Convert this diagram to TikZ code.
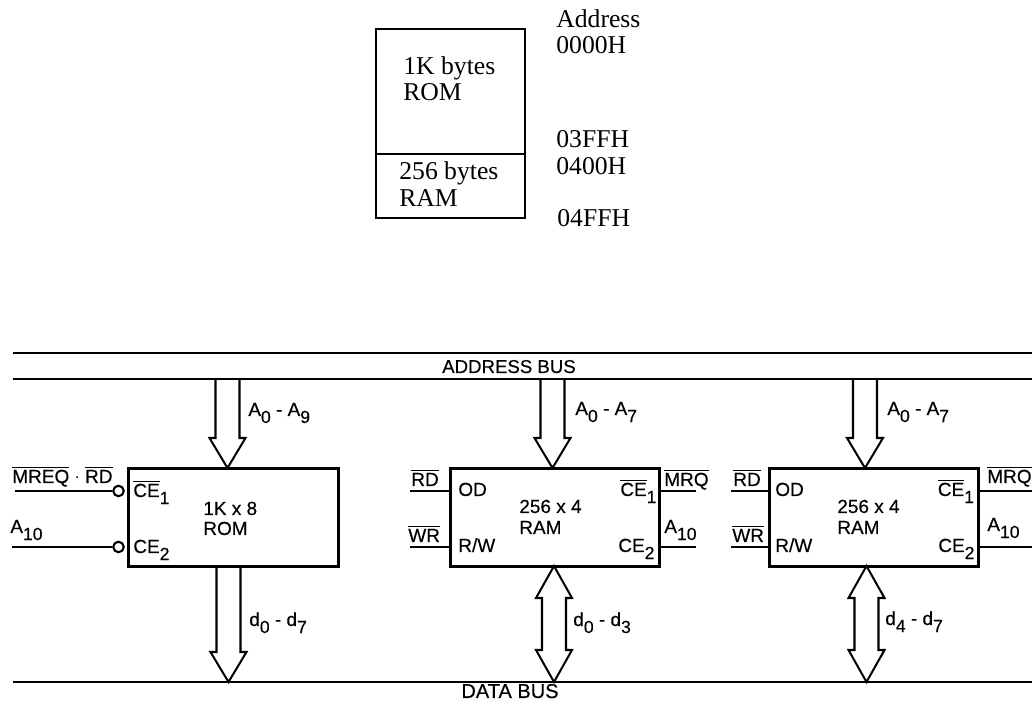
\documentclass[tikz,border=0pt]{standalone}
\usepackage{fontspec}
\setmainfont[FakeBold=0.35]{Liberation Sans}
\newfontfamily\mapfont{Liberation Serif}

\newcommand{\lowsub}[1]{\raisebox{-4pt}{\fontsize{10}{10}\selectfont #1}}
\newcommand{\barred}[1]{$\overline{\mbox{#1}}$}

% Hollow bus arrows between two named points
\newcommand{\busdown}[2]{
  \draw[busarrow] ([shift={(-12,0)}]#1) -- ([shift={(-12,-30)}]#2) -- ([shift={(-18,-30)}]#2)
    -- (#2) -- ([shift={(18,-30)}]#2) -- ([shift={(12,-30)}]#2) -- ([shift={(12,0)}]#1);
}
\newcommand{\busboth}[2]{
  \draw[busarrow] ([shift={(-12,32)}]#1) -- ([shift={(-18,32)}]#1) -- (#1)
    -- ([shift={(18,32)}]#1) -- ([shift={(12,32)}]#1) -- ([shift={(12,-32)}]#2)
    -- ([shift={(18,-32)}]#2) -- (#2) -- ([shift={(-18,-32)}]#2)
    -- ([shift={(-12,-32)}]#2) -- cycle;
}

\tikzset{
  busline/.style={line width=1pt},
  busarrow/.style={line width=1.15pt, line join=miter},
  pinline/.style={line width=1pt},
  chip/.style={draw, line width=1.7pt, minimum width=4.2cm, minimum height=1.96cm, inner sep=0pt},
  bubble/.style={draw, circle, line width=1.2pt, minimum size=0.21cm, inner sep=0pt},
  lbl/.style={anchor=base west, inner sep=0pt, font=\fontsize{10.8}{10.8}\selectfont},
  buslbl/.style={anchor=base, inner sep=0pt, font=\fontsize{10.6}{10.6}\selectfont},
  maplbl/.style={anchor=base west, inner sep=0pt, font=\mapfont\fontsize{14.6}{14.6}\selectfont},
  mapbox/.style={draw, line width=1.05pt, minimum width=2.98cm, inner sep=0pt}
}

\begin{document}
\begin{tikzpicture}[x=0.02cm,y=-0.02cm]

\useasboundingbox (0,0) rectangle (1032,705);

% Memory map
\node[mapbox, minimum height=2.5cm] (maprom) at (450.5,91.5) {};
\node[mapbox, minimum height=1.28cm] (mapram) at (450.5,186) {};
\node[maplbl] (maprom1) at (403,75) {1K bytes};
\node[maplbl] (maprom2) at (403,101) {ROM};
\node[maplbl] (mapram1) at (399,180) {256 bytes};
\node[maplbl] (mapram2) at (399,207) {RAM};
\node[maplbl] (addrhead) at (556,28) {Address};
\node[maplbl] (addr0) at (556,54) {0000H};
\node[maplbl] (addr1) at (556,148) {03FFH};
\node[maplbl] (addr2) at (556,175) {0400H};
\node[maplbl] (addr3) at (557,227) {04FFH};

% Buses
\coordinate (busa1) at (13,353);
\coordinate (busa2) at (1032,353);
\coordinate (busb1) at (13,379);
\coordinate (busb2) at (1032,379);
\coordinate (busc1) at (13,682);
\coordinate (busc2) at (1032,682);
\draw[busline] (busa1) -- (busa2);
\draw[busline] (busb1) -- (busb2);
\draw[busline] (busc1) -- (busc2);
\node[buslbl] (addrbus) at (509,373) {ADDRESS BUS};
\node[buslbl, font=\fontsize{11.4}{11.4}\selectfont] (databus) at (510,698) {DATA BUS};

% Chips
\node[chip] (rom) at (233.5,517.5) {};
\node[chip] (rama) at (555,517.5) {};
\node[chip] (ramb) at (874,517.5) {};

% ROM
\node[lbl] (romname1) at (203,515) {1K x 8};
\node[lbl] (romname2) at (203,535) {ROM};
\node[lbl] (romce1) at (133,497) {\barred{CE}\lowsub{1}};
\node[lbl] (romce2) at (133,553) {CE\lowsub{2}};
\node[bubble] (romb1) at (118.5,491) {};
\node[bubble] (romb2) at (118.5,547) {};
\coordinate (romin1) at (15,491);
\coordinate (romin2) at (12,547);
\draw[pinline] (romin1) -- (romb1);
\draw[pinline] (romin2) -- (romb2);
\node[lbl] (mreq) at (12,483) {\barred{MREQ} $\cdot$ \barred{RD}};
\node[lbl] (roma10) at (10,533) {A\lowsub{10}};
\coordinate (romat) at (227.5,379);
\coordinate (romab) at (227.5,468);
\coordinate (romdt) at (228.5,566);
\coordinate (romdb) at (228.5,682);
\busdown{romat}{romab}
\busdown{romdt}{romdb}
\node[lbl] (romaddr) at (248,416) {A\lowsub{0} - A\lowsub{9}};
\node[lbl] (romdata) at (249,626) {d\lowsub{0} - d\lowsub{7}};

% First RAM
\node[lbl] (ramaname1) at (519,513) {256 x 4};
\node[lbl] (ramaname2) at (519,534) {RAM};
\node[lbl] (ramaod) at (458,496) {OD};
\node[lbl] (ramarw) at (458,552) {R/W};
\node[lbl] (ramace1) at (620,496) {\barred{CE}\lowsub{1}};
\node[lbl] (ramace2) at (618,552) {CE\lowsub{2}};
\coordinate (ramal1) at (410,491);
\coordinate (ramal2) at (410,547);
\coordinate (ramar1) at (696,491);
\coordinate (ramar2) at (696,547);
\draw[pinline] (ramal1) -- (ramal1 -| rama.west);
\draw[pinline] (ramal2) -- (ramal2 -| rama.west);
\draw[pinline] (ramar1) -- (ramar1 -| rama.east);
\draw[pinline] (ramar2) -- (ramar2 -| rama.east);
\node[lbl] (ramard) at (411,486) {\barred{RD}};
\node[lbl] (ramawr) at (408,542) {\barred{WR}};
\node[lbl] (ramamrq) at (664,486) {\barred{MRQ}};
\node[lbl] (ramaa10) at (664,533) {A\lowsub{10}};
\coordinate (ramaat) at (552.5,379);
\coordinate (ramaab) at (552.5,468);
\coordinate (ramadt) at (554,566);
\coordinate (ramadb) at (554,682);
\busdown{ramaat}{ramaab}
\busboth{ramadt}{ramadb}
\node[lbl] (ramaaddr) at (575,415) {A\lowsub{0} - A\lowsub{7}};
\node[lbl] (ramadata) at (573,626) {d\lowsub{0} - d\lowsub{3}};

% Second RAM
\node[lbl] (rambname1) at (837,513) {256 x 4};
\node[lbl] (rambname2) at (837,534) {RAM};
\node[lbl] (rambod) at (775,496) {OD};
\node[lbl] (rambrw) at (775,552) {R/W};
\node[lbl] (rambce1) at (937.5,496) {\barred{CE}\lowsub{1}};
\node[lbl] (rambce2) at (938,552) {CE\lowsub{2}};
\coordinate (rambl1) at (731,491);
\coordinate (rambl2) at (731,547);
\coordinate (rambr1) at (1032,491);
\coordinate (rambr2) at (1032,547);
\draw[pinline] (rambl1) -- (rambl1 -| ramb.west);
\draw[pinline] (rambl2) -- (rambl2 -| ramb.west);
\draw[pinline] (rambr1) -- (rambr1 -| ramb.east);
\draw[pinline] (rambr2) -- (rambr2 -| ramb.east);
\node[lbl] (rambrd) at (733,486) {\barred{RD}};
\node[lbl] (rambwr) at (732,542) {\barred{WR}};
\node[lbl] (rambmrq) at (987,483) {\barred{MRQ}};
\node[lbl] (ramba10) at (987,531) {A\lowsub{10}};
\coordinate (rambat) at (865,379);
\coordinate (rambab) at (865,468);
\coordinate (rambdt) at (866.5,566);
\coordinate (rambdb) at (866.5,682);
\busdown{rambat}{rambab}
\busboth{rambdt}{rambdb}
\node[lbl] (rambaddr) at (887,415) {A\lowsub{0} - A\lowsub{7}};
\node[lbl] (rambdata) at (885,625) {d\lowsub{4} - d\lowsub{7}};

\end{tikzpicture}
\end{document}
